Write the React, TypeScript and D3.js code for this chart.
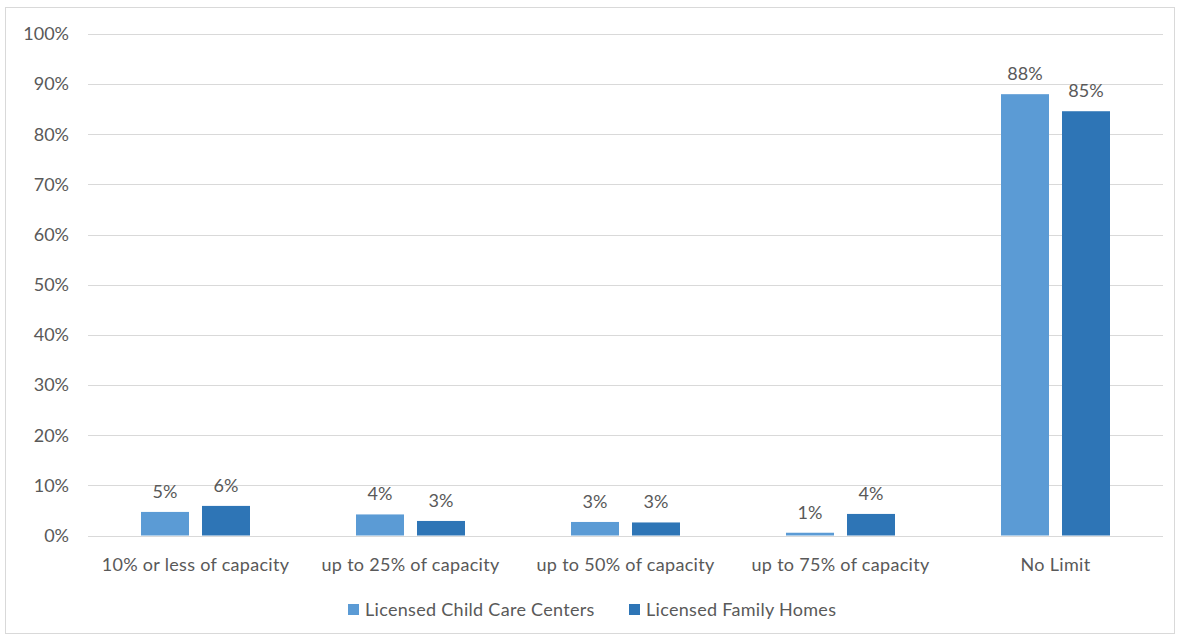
import React from "react";
import * as d3 from "d3";

const categories = [
  "10% or less of capacity",
  "up to 25% of capacity",
  "up to 50% of capacity",
  "up to 75% of capacity",
  "No Limit",
];
const seriesNames = ["Licensed Child Care Centers", "Licensed Family Homes"];
const centers = [0.047, 0.042, 0.027, 0.0055, 0.88];
const homes = [0.059, 0.029, 0.026, 0.043, 0.846];
const yTicks = [0, 0.1, 0.2, 0.3, 0.4, 0.5, 0.6, 0.7, 0.8, 0.9, 1.0];
const colors = ["#5B9BD5", "#2E75B6"];

const W = 1177;
const H = 635;
const FONT = "Lato, 'Open Sans', sans-serif";
const TEXT = "#595959";
const FS = 18;

export default function App() {
  const left = 88, right = 1163, top = 34, bottom = 535.5;
  const x = d3.scaleBand<string>().domain(categories).range([left, right]);
  const y = d3.scaleLinear().domain([0, 1]).range([bottom, top]);
  const barW = 48;
  const gap = 13;
  const fmt = d3.format(".0%");
  const series = [centers, homes];

  return (
    <svg width={W} height={H} style={{ position: "absolute", left: 0, top: 0 }}>
      <rect x={0} y={0} width={W} height={H} fill="#fff" />
      <rect x={5.5} y={7.5} width={1169} height={626} fill="none" stroke="#d9d9d9" strokeWidth={1} />
      {yTicks.map((t) => (
        <g key={t}>
          <line x1={left} x2={right} y1={Math.round(y(t)) + 0.5} y2={Math.round(y(t)) + 0.5} stroke="#d9d9d9" strokeWidth={1} />
          <text x={69} y={y(t)} dy="0.35em" textAnchor="end" fontFamily={FONT} fontSize={FS} fill={TEXT}>
            {fmt(t)}
          </text>
        </g>
      ))}
      {categories.map((c, i) => {
        const cx = (x(c) as number) + x.bandwidth() / 2;
        return (
          <g key={c}>
            {series.map((s, j) => {
              const bx = j === 0 ? cx - gap / 2 - barW : cx + gap / 2;
              const v = s[i];
              return (
                <g key={j}>
                  <rect x={bx} y={y(v)} width={barW} height={bottom - y(v)} fill={colors[j]} />
                  <text x={bx + barW / 2} y={y(v) - 14} textAnchor="middle" fontFamily={FONT} fontSize={FS} fill={TEXT}>
                    {fmt(v)}
                  </text>
                </g>
              );
            })}
            <text x={cx} y={565} dy="0.35em" textAnchor="middle" fontFamily={FONT} fontSize={FS} fill={TEXT} letterSpacing={0.3}>
              {c}
            </text>
          </g>
        );
      })}
      {seriesNames.map((n, j) => {
        const lx = j === 0 ? 348 : 629;
        return (
          <g key={n}>
            <rect x={lx} y={604} width={11} height={11} fill={colors[j]} />
            <text x={lx + 17} y={609.5} dy="0.35em" fontFamily={FONT} fontSize={FS} fill={TEXT} letterSpacing={0.3}>
              {n}
            </text>
          </g>
        );
      })}
    </svg>
  );
}
